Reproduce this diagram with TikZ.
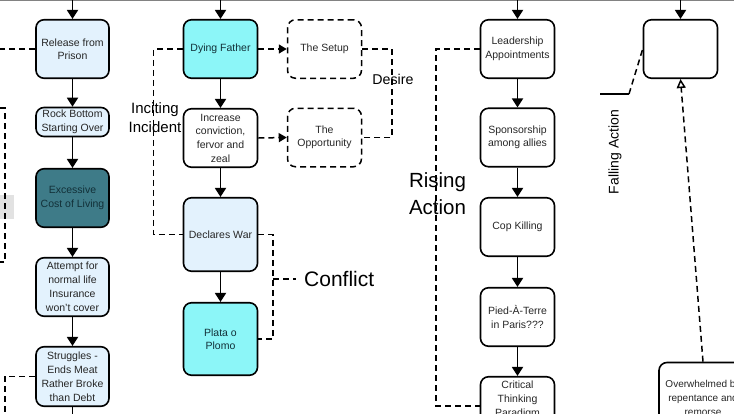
\documentclass[tikz,border=0pt]{standalone}
\usepackage{fontspec}
\setmainfont{Liberation Sans}
\usetikzlibrary{arrows.meta,calc}
\definecolor{lblue}{RGB}{227,242,253}
\definecolor{cyanbox}{RGB}{140,246,248}
\definecolor{tealbox}{RGB}{62,123,136}
\definecolor{tealtext}{RGB}{18,48,56}
\definecolor{topgray}{RGB}{130,130,130}
\definecolor{sidegray}{RGB}{226,226,226}
\tikzset{
  box/.style={draw=black, line width=1.6pt, rounded corners=8pt, align=center,
    font=\fontsize{10.5}{13.5}\selectfont, inner sep=1pt,
    minimum width=73pt, minimum height=58.5pt, text=black!85},
  dbox/.style={box, dashed, dash pattern=on 6pt off 4pt, line width=1.5pt},
  arr/.style={-{Triangle[length=9pt,width=11pt]}, line width=1.8pt},
  dsh/.style={dash pattern=on 6pt off 4pt, line width=1.5pt},
  darr/.style={dsh, -{Triangle[length=8pt,width=9pt]}},
  big/.style={font=\fontsize{21}{26}\selectfont, align=center, inner sep=0pt},
  mid/.style={font=\fontsize{15}{19}\selectfont, align=center, inner sep=0pt},
}
\begin{document}
\begin{tikzpicture}[x=1pt,y=-1pt]
\useasboundingbox (0,0) rectangle (734,413);
\clip (0,0) rectangle (734,413);
\draw[topgray, line width=1.5pt] (0,0.7) -- (734,0.7);
\fill[sidegray] (0,195) rectangle (14,219);

% column 1
\node[box, fill=lblue] (rel) at (72.5,49) {Release from\\Prison};
\node[box, fill=lblue, minimum height=29pt] (rock) at (72.5,122) {Rock Bottom\\Starting Over};
\node[box, fill=tealbox, text=tealtext] (exc) at (72.5,198) {Excessive\\Cost of Living};
\node[box, fill=lblue, font=\fontsize{10.5}{14}\selectfont] (att) at (72.5,287) {Attempt for\\normal life\\Insurance\\won't cover};
\node[box, fill=lblue, font=\fontsize{10.5}{14}\selectfont, minimum height=59.5pt] (str) at (72.5,376.5) {Struggles -\\Ends Meat\\Rather Broke\\than Debt};

% column 2
\node[box, fill=cyanbox, text=tealtext, minimum width=74pt] (dying) at (220.5,49) {Dying Father};
\node[box, fill=white, minimum width=74pt, font=\fontsize{10.5}{13.7}\selectfont] (incr) at (220.5,138) {Increase\\conviction,\\fervor and\\zeal};
\node[box, fill=lblue, minimum width=74pt, minimum height=73.5pt] (decl) at (220.5,234.5) {Declares War};
\node[box, fill=cyanbox, text=tealtext, minimum width=74pt, minimum height=72.5pt] (plata) at (220.5,339) {Plata o\\Plomo};
\node[dbox, minimum width=74pt] (setup) at (324.5,49) {The Setup};
\node[dbox, minimum width=74pt] (opp) at (324.5,137.5) {The\\Opportunity};

% column 3
\node[box, minimum width=74pt] (lead) at (517.5,49) {Leadership\\Appointments};
\node[box, minimum width=74pt] (spon) at (517.5,137.5) {Sponsorship\\among allies};
\node[box, minimum width=74pt] (cop) at (517.5,227) {Cop Killing};
\node[box, minimum width=74pt] (pied) at (517.5,317) {Pied-À-Terre\\in Paris???};
\node[box, minimum width=74pt, font=\fontsize{10.5}{14}\selectfont] (crit) at (517.5,406) {Critical\\Thinking\\Paradigm\\\mbox{}};

% column 4
\node[box, minimum width=74pt] (empty) at (680.5,49) {};
\node[box, minimum width=88pt, minimum height=71pt, font=\fontsize{10}{14.2}\selectfont] (ov) at (703,398) {Overwhelmed by\\repentance and\\remorse};

% top entry arrows
\coordinate (t1) at (72.5,0);
\coordinate (t2) at (220.5,0);
\coordinate (t3) at (517.5,0);
\coordinate (t4) at (680.5,0);
\draw[arr] (t1) -- (rel);
\draw[arr] (t2) -- (dying);
\draw[arr] (t3) -- (lead);
\draw[arr] (t4) -- (empty);

% flow arrows
\draw[arr] (rel) -- (rock);
\draw[arr] (rock) -- (exc);
\draw[arr] (exc) -- (att);
\draw[arr] (att) -- (str);
\coordinate (b1) at (72.5,414);
\draw[line width=1.8pt] (str) -- (b1);
\draw[arr] (dying) -- (incr);
\draw[arr] (incr) -- (decl);
\draw[arr] (decl) -- (plata);
\draw[arr] (lead) -- (spon);
\draw[arr] (spon) -- (cop);
\draw[arr] (cop) -- (pied);
\draw[arr] (pied) -- (crit);

% left dashed
\coordinate (l0) at (0,49);
\draw[dsh] (rel.west) -- (l0);
\coordinate (lb1) at (0,108);
\coordinate (lb2) at (0,262);
\draw[dsh] (lb1) -- (5,108) -- (5,262) -- (lb2);
\coordinate (lb3) at (0,411);
\draw[dsh] (str.west) -- (5,376.5) -- (5,411) -- (lb3);

% inciting incident
\draw[dsh] (dying.west) -- (153.5,49) |- (decl.west);
\node[mid] (inc) at (155,117.5) {Inciting\\Incident};

% desire
\draw[darr] (dying.east) -- (setup.west);
\draw[darr] (incr.east) -- (opp.west);
\draw[dsh] (setup.east) -- (392,49) |- (opp.east);
\node[font=\fontsize{14.2}{17}\selectfont, inner sep=0pt] (des) at (393,79) {Desire};

% conflict
\draw[dsh] (decl.east) -- (273,234.5) |- (plata.east);
\coordinate (cf) at (296,279);
\draw[dsh] (273,279) -- (cf);
\node[big, anchor=west] (con) at (304,279) {Conflict};

% rising action
\draw[dsh] (lead.west) -- (436,49) |- (crit.west);
\node[big, font=\fontsize{20.5}{26.5}\selectfont] (ris) at (437.5,193.5) {Rising\\Action};

% falling action
\coordinate (fa0) at (600,94);
\coordinate (fa1) at (629,94);
\draw[line width=1.3pt] (fa0) -- (fa1);
\draw[dsh] (fa1) -- (empty.west);
\node[font=\fontsize{14}{17}\selectfont, rotate=90, inner sep=0pt] (fal) at (615,152) {Falling Action};
\draw[dsh, -{Triangle[open, length=9pt, width=9pt, fill=white]}] (ov.north) -- (empty.south);
\end{tikzpicture}
\end{document}
